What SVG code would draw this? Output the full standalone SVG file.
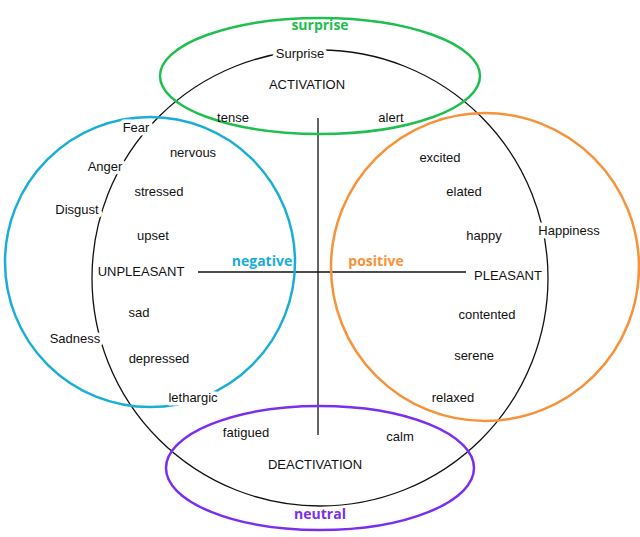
<svg xmlns="http://www.w3.org/2000/svg" width="640" height="537" viewBox="0 0 640 537">
<style>
.t{font-family:"Liberation Sans",Arial,sans-serif;font-size:13px;fill:#111;text-anchor:middle}
.w{stroke:#fff;stroke-width:7px;paint-order:stroke;stroke-linejoin:round}
.b{font-family:"Open Sans","Liberation Sans",sans-serif;font-size:14px;font-weight:bold;text-anchor:middle}
.l{fill:none;stroke:#111;stroke-width:1.3}
</style>
<rect width="640" height="537" fill="#fff"/>
<g id="connectors">
<circle class="l" cx="320" cy="278" r="228"/>
<line class="l" x1="318" y1="118" x2="318" y2="435"/>
<line class="l" x1="198" y1="272" x2="466" y2="272"/>
</g>
<g id="surprise"><ellipse cx="320" cy="76" rx="160" ry="58" fill="none" stroke="#1fbf4f" stroke-width="2.5"/><text class="b" x="320" y="30" fill="#1fbf4f">surprise</text></g>
<g id="negative"><circle cx="150" cy="262" r="145" fill="none" stroke="#1aaed6" stroke-width="2.5"/><text class="b" x="262" y="266" fill="#1aaed6">negative</text></g>
<g id="positive"><circle cx="485" cy="267" r="154" fill="none" stroke="#f7923a" stroke-width="2.5"/><text class="b" x="376" y="266" fill="#f7923a">positive</text></g>
<g id="neutral"><ellipse cx="320" cy="468" rx="154" ry="62" fill="none" stroke="#7a2ff0" stroke-width="2.5"/><text class="b" x="320" y="519" fill="#7a2ff0">neutral</text></g>
<g id="labels">
<text class="t w" x="300" y="58">Surprise</text>
<text class="t" x="307" y="89">ACTIVATION</text>
<text class="t" x="233" y="122">tense</text>
<text class="t" x="391" y="122">alert</text>
<text class="t w" x="136" y="132">Fear</text>
<text class="t" x="193" y="157">nervous</text>
<text class="t w" x="105" y="171">Anger</text>
<text class="t" x="159" y="196">stressed</text>
<text class="t w" x="77" y="214">Disgust</text>
<text class="t" x="153" y="240">upset</text>
<text class="t" x="141" y="276">UNPLEASANT</text>
<text class="t" x="139" y="317">sad</text>
<text class="t w" x="75" y="343">Sadness</text>
<text class="t" x="159" y="363">depressed</text>
<text class="t w" x="193" y="402">lethargic</text>
<text class="t" x="440" y="162">excited</text>
<text class="t" x="464" y="196">elated</text>
<text class="t" x="484" y="240">happy</text>
<text class="t w" x="569" y="235">Happiness</text>
<text class="t" x="508" y="280">PLEASANT</text>
<text class="t" x="487" y="319">contented</text>
<text class="t" x="474" y="360">serene</text>
<text class="t" x="453" y="402">relaxed</text>
<text class="t" x="246" y="437">fatigued</text>
<text class="t" x="400" y="441">calm</text>
<text class="t" x="315" y="469">DEACTIVATION</text>
</g>
</svg>
